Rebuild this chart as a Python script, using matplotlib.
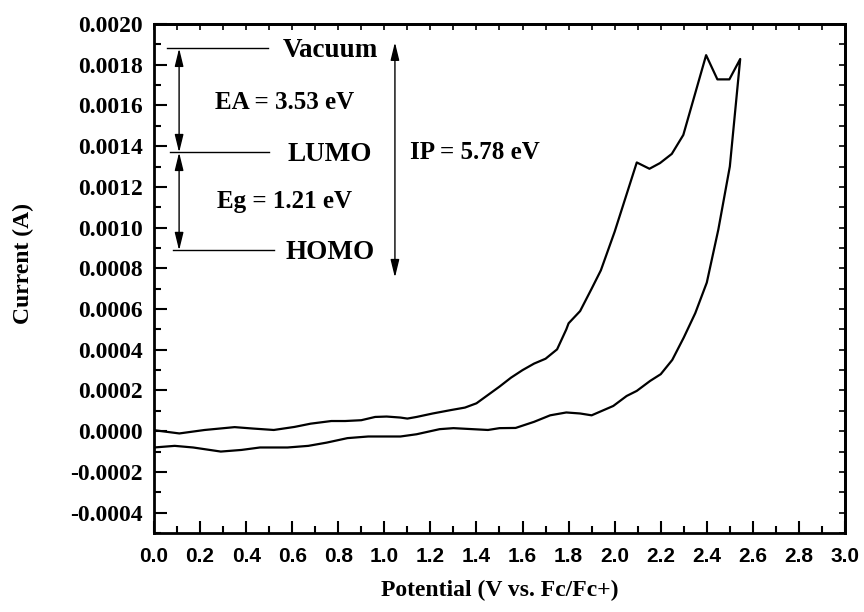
import matplotlib
matplotlib.use("Agg")
import matplotlib.pyplot as plt
from matplotlib.ticker import MultipleLocator, FormatStrFormatter

# forward sweep (upper branch)
fwd_potential = [0.0, 0.11, 0.22, 0.35, 0.43, 0.52, 0.61, 0.68, 0.77, 0.83, 0.90, 0.96, 1.01,
                 1.07, 1.10, 1.14, 1.21, 1.29, 1.35, 1.40, 1.45, 1.50, 1.55, 1.60, 1.65, 1.70,
                 1.75, 1.79, 1.80, 1.85, 1.90, 1.94, 2.00, 2.096, 2.151, 2.197, 2.248, 2.298,
                 2.397, 2.446, 2.498, 2.545]
fwd_current = [0.000005, -0.000011, 0.000006, 0.00002, 0.000013, 0.000006, 0.000021, 0.000037,
               0.00005, 0.00005, 0.000054, 0.00007, 0.000072, 0.000067, 0.000062, 0.00007,
               0.000087, 0.000104, 0.000116, 0.000137, 0.000178, 0.000219, 0.000263, 0.0003,
               0.000332, 0.000356, 0.000402, 0.0005, 0.00053, 0.00059, 0.0007, 0.00079,
               0.00098, 0.00132, 0.001289, 0.001317, 0.001362, 0.001455, 0.001847, 0.001728,
               0.001728, 0.001828]

# reverse sweep (lower branch)
rev_potential = [2.545, 2.50, 2.45, 2.40, 2.35, 2.30, 2.25, 2.20, 2.154, 2.096, 2.052, 1.994,
                 1.90, 1.85, 1.79, 1.72, 1.65, 1.57, 1.50, 1.45, 1.30, 1.24, 1.14, 1.07, 0.93,
                 0.84, 0.75, 0.67, 0.58, 0.46, 0.38, 0.29, 0.17, 0.09, 0.0]
rev_current = [0.001828, 0.0013, 0.00099, 0.00073, 0.00058, 0.00046, 0.00035, 0.00028,
               0.000247, 0.000198, 0.000173, 0.000124, 0.000078, 0.000087, 0.000092, 0.000078,
               0.000046, 0.000016, 0.000015, 0.000006, 0.000015, 0.00001, -0.000015, -0.000026,
               -0.000026, -0.000034, -0.000056, -0.000072, -0.00008, -0.00008, -0.000092,
               -0.0001, -0.00008, -0.000072, -0.00008]

# energy level diagram
level_names = ["Vacuum", "LUMO", "HOMO"]
level_y = [0.00188, 0.001369, 0.000888]
level_x0 = [0.056, 0.069, 0.083]
level_x1 = [0.495, 0.50, 0.52]
gap_labels = ["EA = 3.53 eV", "Eg = 1.21 eV"]
ip_label = "IP = 5.78 eV"

serif = "Liberation Serif"
sans = "Liberation Sans"

fig = plt.figure(figsize=(8.64, 6.12), dpi=100)
ax = fig.add_axes([154 / 864, 79 / 612, 691 / 864, 509 / 612])

ax.plot(fwd_potential + rev_potential, fwd_current + rev_current, color="black", lw=1.6)

# levels
for name, y, x0, x1 in zip(level_names, level_y, level_x0, level_x1):
    ax.plot([x0, x1], [y, y], color="black", lw=1)
    ax.text(0.765, y - 0.00001, name, ha="center", va="center", fontsize=19.5,
            fontweight="bold", family=serif)

arrow = dict(arrowstyle="<|-|>,head_length=0.9,head_width=0.22", color="black",
             lw=1, shrinkA=0, shrinkB=0, mutation_scale=12)
ax.annotate("", xy=(0.109, level_y[0]), xytext=(0.109, level_y[1]), arrowprops=arrow)
ax.annotate("", xy=(0.109, level_y[1]), xytext=(0.109, level_y[2]), arrowprops=arrow)
ax.annotate("", xy=(1.046, 0.00191), xytext=(1.046, 0.000755), arrowprops=arrow)

ax.text(0.567, (level_y[0] + level_y[1]) / 2 - 0.00001, gap_labels[0], ha="center", va="center",
        fontsize=18, fontweight="bold", family=serif)
ax.text(0.565, (level_y[1] + level_y[2]) / 2, gap_labels[1], ha="center", va="center",
        fontsize=18, fontweight="bold", family=serif)
ax.text(1.11, 0.001367, ip_label, ha="left", va="center",
        fontsize=18, fontweight="bold", family=serif)

ax.set_xlim(0, 3.0)
ax.set_ylim(-0.0005, 0.0020)
ax.xaxis.set_major_locator(MultipleLocator(0.2))
ax.xaxis.set_minor_locator(MultipleLocator(0.1))
ax.yaxis.set_major_locator(MultipleLocator(0.0002))
ax.yaxis.set_minor_locator(MultipleLocator(0.0001))
ax.xaxis.set_major_formatter(FormatStrFormatter("%.1f"))
ax.yaxis.set_major_formatter(FormatStrFormatter("%.4f"))
ax.set_yticks([0.0020, 0.0018, 0.0016, 0.0014, 0.0012, 0.0010, 0.0008, 0.0006, 0.0004,
               0.0002, 0.0, -0.0002, -0.0004])

ax.tick_params(which="major", direction="in", length=9, width=1.5)
ax.tick_params(which="minor", direction="in", length=5, width=1.5)
ax.tick_params(axis="x", which="major", pad=10)
ax.tick_params(axis="y", which="major", pad=8)
for lab in ax.get_xticklabels():
    lab.set_fontfamily(sans)
    lab.set_fontweight("bold")
    lab.set_fontsize(15)
for lab in ax.get_yticklabels():
    lab.set_fontfamily(serif)
    lab.set_fontweight("bold")
    lab.set_fontsize(17)

# small ticks on top and right
top = ax.secondary_xaxis("top")
top.xaxis.set_major_locator(MultipleLocator(0.1))
top.tick_params(direction="in", length=4, width=1.2, labeltop=False)
right = ax.secondary_yaxis("right")
right.yaxis.set_major_locator(MultipleLocator(0.0001))
right.tick_params(direction="in", length=4, width=1.2, labelright=False)

for sp in list(ax.spines.values()) + [top.spines["top"], right.spines["right"]]:
    sp.set_linewidth(2)

ax.set_xlabel("Potential (V vs. Fc/Fc+)", fontsize=17, fontweight="bold", family=serif)
ax.xaxis.set_label_coords(0.5, -0.092)
ax.set_ylabel("Current (A)", fontsize=17, fontweight="bold", family=serif)
ax.yaxis.set_label_coords(-0.174, 0.53)

fig.savefig("out.png", dpi=100)
